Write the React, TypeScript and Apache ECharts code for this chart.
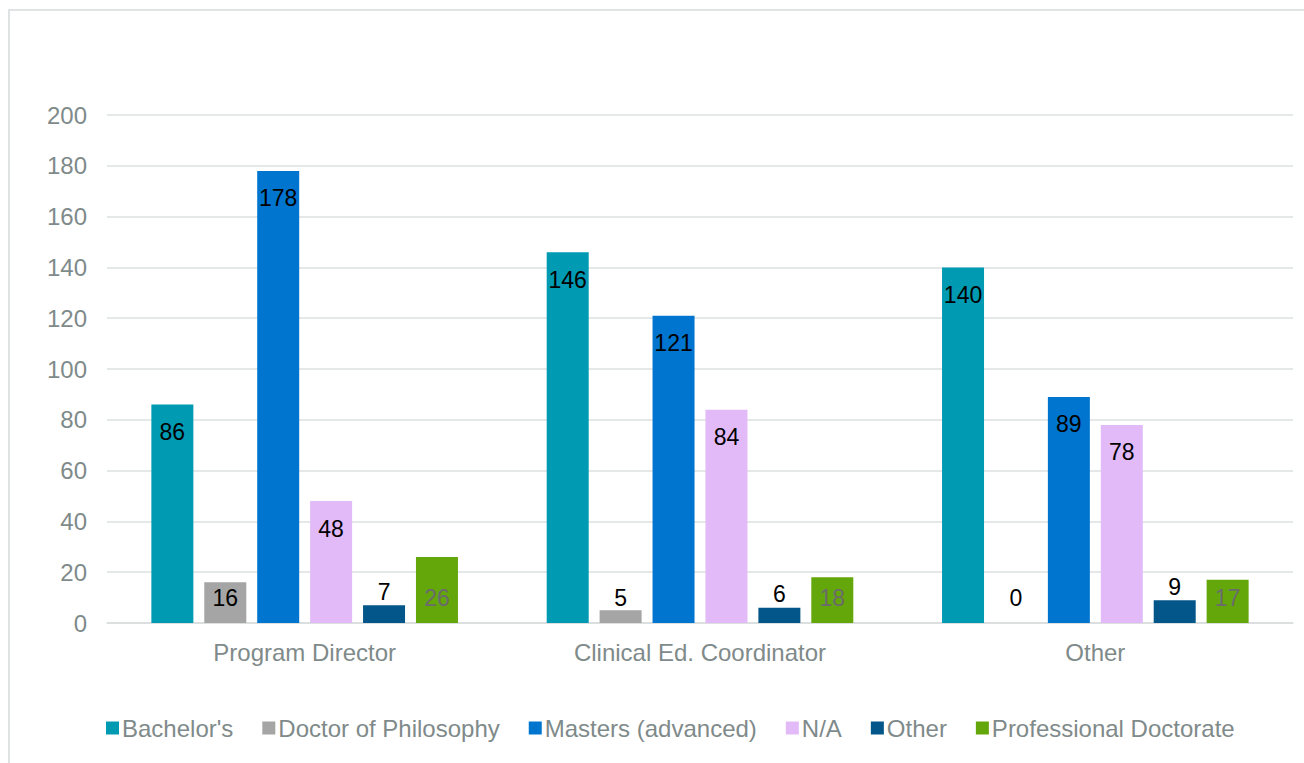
import React, { useEffect, useRef } from "react";
import * as echarts from "echarts";

const categories = ["Program Director", "Clinical Ed. Coordinator", "Other"];
const seriesNames = ["Bachelor's", "Doctor of Philosophy", "Masters (advanced)", "N/A", "Other", "Professional Doctorate"];
const bachelors = [86, 146, 140];
const doctorPhil = [16, 5, 0];
const masters = [178, 121, 89];
const notApplicable = [48, 84, 78];
const otherDegree = [7, 6, 9];
const profDoctorate = [26, 18, 17];
const yTicks = { min: 0, max: 200, interval: 20 };

const colors = ["#009AB3", "#A5A5A5", "#0075CF", "#E2BAF8", "#03568A", "#64A70B"];
const labelColors = ["#000000", "#000000", "#000000", "#000000", "#000000", "#6b6b6b"];

export default function App() {
  const ref = useRef<HTMLDivElement>(null);
  useEffect(() => {
    if (!ref.current) return;
    const chart = echarts.init(ref.current, undefined, { renderer: "svg" });
    const all = [bachelors, doctorPhil, masters, notApplicable, otherDegree, profDoctorate];
    const font = "'Liberation Sans', Arial, sans-serif";
    const series = all.map((vals, si) => ({
      name: seriesNames[si],
      type: "bar",
      barWidth: 42,
      barGap: "26%",
      itemStyle: { color: colors[si] },
      data: vals.map((v) => {
        let position = "insideTop";
        let distance = 16;
        if (v < 30) {
          if (si === 4) {
            position = "top";
            distance = 2;
          } else {
            position = "insideBottom";
            distance = 14;
          }
        }
        return {
          value: v,
          label: {
            show: true,
            position,
            distance,
            color: labelColors[si],
            fontSize: 23,
            fontFamily: font,
          },
        };
      }),
    }));
    chart.setOption({
      animation: false,
      color: colors,
      graphic: [
        {
          type: "rect",
          shape: { x: 9, y: 10, width: 1310, height: 780 },
          style: { fill: "none", stroke: "#e0e3e3", lineWidth: 2 },
          silent: true,
        },
      ],
      grid: { left: 107, right: 11, top: 115, bottom: 140 },
      legend: {
        bottom: 18,
        left: 101,
        icon: "rect",
        itemWidth: 13,
        itemHeight: 13,
        itemGap: 29,
        textStyle: { color: "#7f8a8a", fontSize: 24, fontFamily: font, padding: [0, 0, 0, -2] },
        data: seriesNames,
      },
      xAxis: {
        type: "category",
        data: categories,
        axisLine: { lineStyle: { color: "#d9dcdc", width: 1.5 } },
        axisTick: { show: false },
        axisLabel: { color: "#7f8a8a", fontSize: 24, fontFamily: font, margin: 17 },
      },
      yAxis: {
        type: "value",
        min: yTicks.min,
        max: yTicks.max,
        interval: yTicks.interval,
        axisLine: { show: false },
        axisTick: { show: false },
        splitLine: { lineStyle: { color: "#dde0e0", width: 1.5 } },
        axisLabel: { color: "#7f8a8a", fontSize: 24, fontFamily: font, margin: 20 },
      },
      series,
    });
    return () => chart.dispose();
  }, []);
  return (
    <div
      ref={ref}
      style={{ position: "absolute", left: 0, top: 0, width: 1304, height: 763 }}
    />
  );
}
